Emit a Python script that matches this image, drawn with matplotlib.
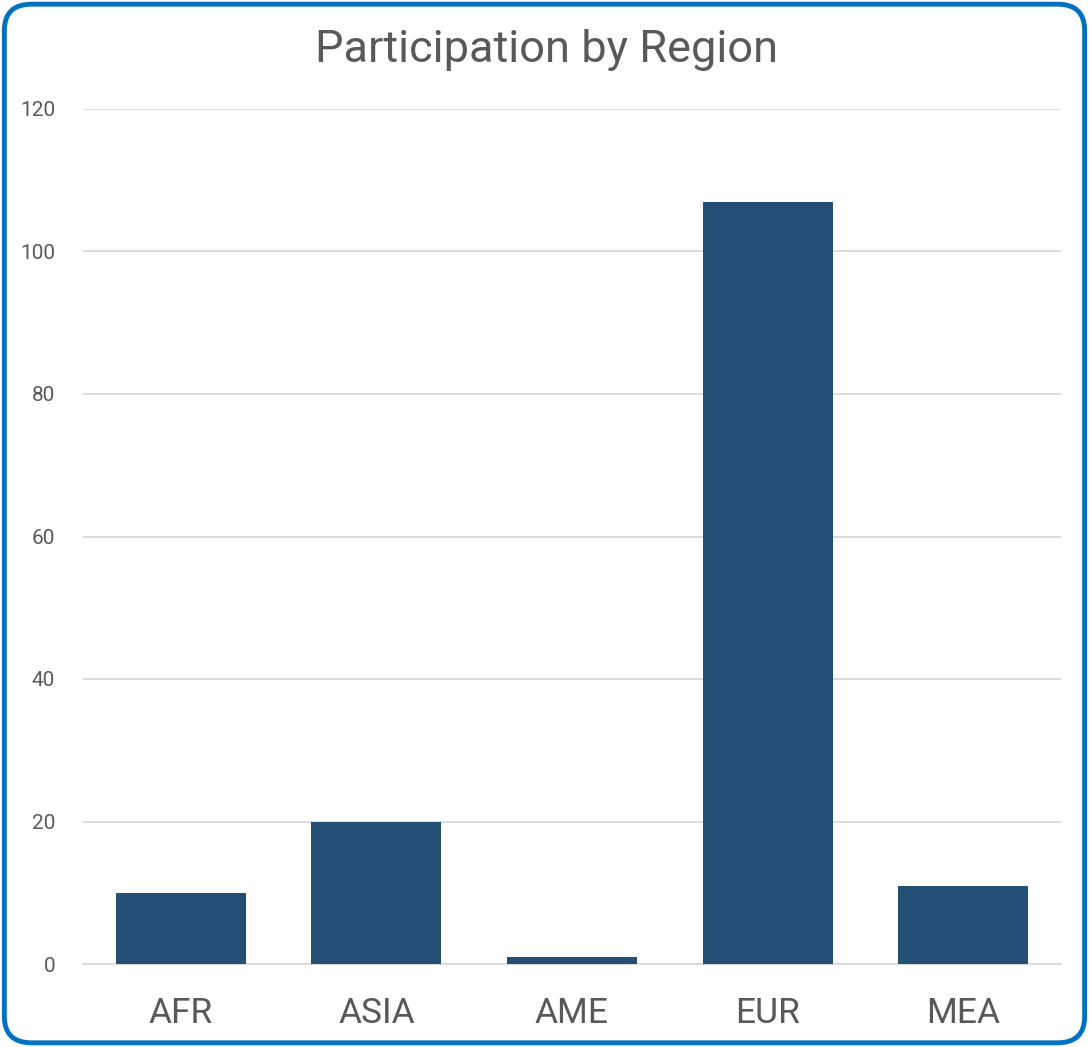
import matplotlib.pyplot as plt
from matplotlib.patches import FancyBboxPatch

# chart data
regions = ['AFR', 'ASIA', 'AME', 'EUR', 'MEA']
participants = [10, 20, 1, 107, 11]
y_ticks = [0, 20, 40, 60, 80, 100, 120]

bar_color = '#245075'
text_color = '#595959'
grid_color = '#D9D9D9'
border_color = '#0070C0'

plt.rcParams['font.family'] = ['Roboto', 'DejaVu Sans']

fig = plt.figure(figsize=(10.89, 10.47), dpi=100)

# rounded blue frame round the whole chart
frame = FancyBboxPatch((0.004, 0.004), 0.992, 0.992,
                       boxstyle='round,pad=0,rounding_size=0.025',
                       transform=fig.transFigure, facecolor='white',
                       edgecolor=border_color, linewidth=3.5, zorder=-1)
fig.patches.append(frame)

ax = fig.add_axes([83 / 1089, 83 / 1047, 978 / 1089, 855 / 1047])
ax.set_facecolor('none')

x = range(len(regions))
ax.bar(x, participants, width=0.665, color=bar_color, zorder=3)

ax.set_xlim(-0.5, len(regions) - 0.5)
ax.set_ylim(0, 120)
ax.set_yticks(y_ticks)
ax.set_xticks(list(x))
ax.set_xticklabels(regions)

ax.yaxis.grid(True, color=grid_color, linewidth=1.3, zorder=0)
for side in ['top', 'right', 'left']:
    ax.spines[side].set_visible(False)
ax.spines['bottom'].set_color(grid_color)
ax.spines['bottom'].set_linewidth(1.3)

ax.tick_params(axis='y', length=0, pad=20, labelsize=15, labelcolor=text_color)
ax.tick_params(axis='x', length=0, pad=24, labelsize=25.5, labelcolor=text_color)

fig.text(547 / 1089, 1 - 50 / 1047, 'Participation by Region', ha='center',
         va='center', fontsize=32.5, color=text_color)

fig.savefig('out.png', dpi=100)
